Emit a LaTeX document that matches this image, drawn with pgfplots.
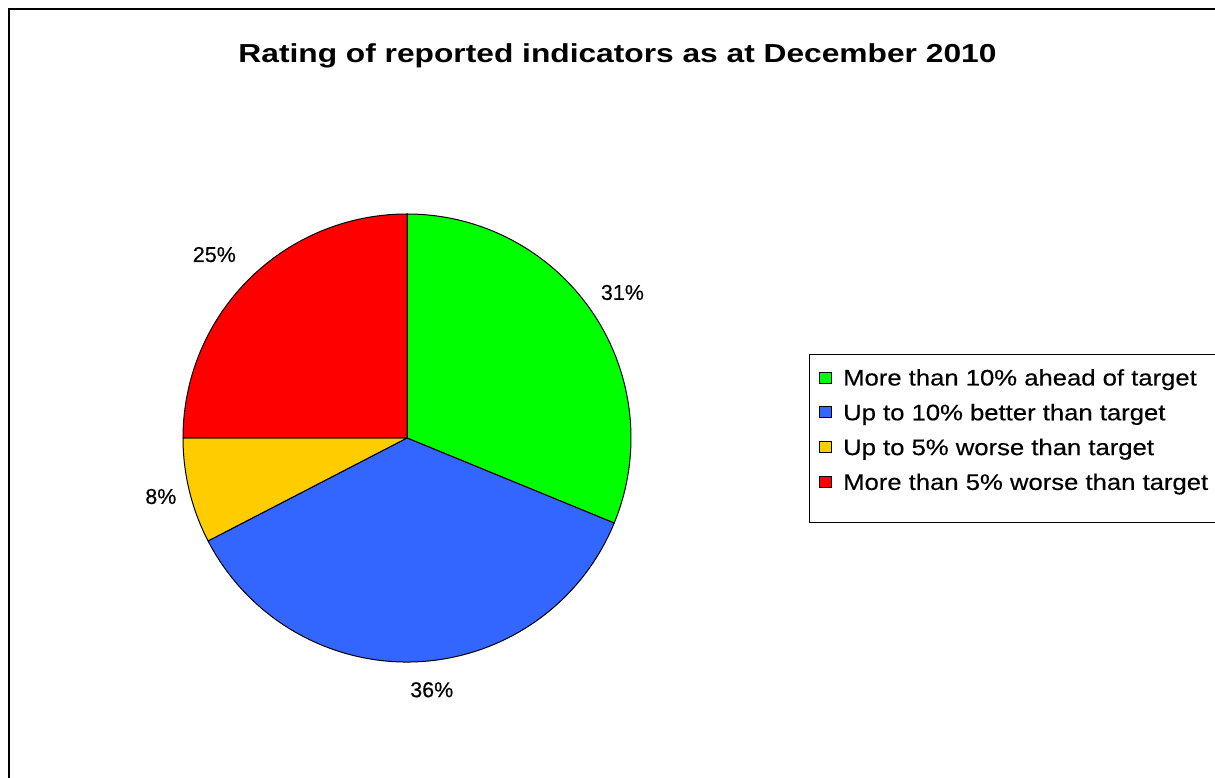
\documentclass[border=0pt]{standalone}
\usepackage{pgfplots}
\pgfplotsset{compat=1.18}
\usepackage{pgfplotstable}
\usepackage{fontspec}
\setmainfont{Liberation Sans}
\newfontfamily\titlefont{Liberation Sans}[FakeStretch=1.22]
\newfontfamily\legfont{Liberation Sans}[FakeStretch=1.14,FakeBold=0.4]
\newfontfamily\labfont{Liberation Sans}[FakeBold=0.4]
\definecolor{sliceA}{HTML}{00FF00}
\definecolor{sliceB}{HTML}{3366FF}
\definecolor{sliceC}{HTML}{FFCC00}
\definecolor{sliceD}{HTML}{FF0000}

% share (%), label distance from centre, label angle offset
\pgfplotstableread{
value ldist loff
31.2 260 0.2
36.2 253 3.1
7.6 253 -0.3
25.0 266 1.4
}\piedata

\begin{document}
\begin{tikzpicture}
\useasboundingbox (0,0) rectangle (1215bp,778bp);
\begin{axis}[at={(0,0)},anchor=south west,
  width=1215bp,height=778bp,scale only axis,hide axis,
  xmin=0,xmax=1215,ymin=0,ymax=778,clip=false]
\pgfplotsextra{%
  % outer chart border (only left and top visible)
  \draw[line width=2.4bp] (axis cs:9,-20) -- (axis cs:9,769) -- (axis cs:1240,769);
  % title
  \node[anchor=base,inner sep=0,font=\titlefont\bfseries\fontsize{26bp}{30bp}\selectfont]
    at (axis cs:617.5,715) {Rating of reported indicators as at December 2010};
  % pie
  \gdef\cum{0}%
  \foreach \i/\col in {0/sliceA,1/sliceB,2/sliceC,3/sliceD}{%
    \pgfplotstablegetelem{\i}{value}\of\piedata \let\v\pgfplotsretval
    \pgfplotstablegetelem{\i}{ldist}\of\piedata \let\ld\pgfplotsretval
    \pgfplotstablegetelem{\i}{loff}\of\piedata \let\lo\pgfplotsretval
    \pgfmathsetmacro\aone{90-3.6*\cum}%
    \pgfmathsetmacro\atwo{90-3.6*(\cum+\v)}%
    \pgfmathsetmacro\amid{(\aone+\atwo)/2+\lo}%
    \pgfmathtruncatemacro\pct{round(\v)}%
    \filldraw[fill=\col,draw=black,line width=1bp,line join=round]
      (axis cs:407,340) -- ++(\aone:224bp) arc[start angle=\aone,end angle=\atwo,radius=224bp] -- cycle;
    \path (axis cs:407,340) ++(\amid:\ld bp)
      node[inner sep=0,font=\labfont\fontsize{21.5bp}{25bp}\selectfont] {\pct\%};
    \pgfmathsetmacro\newcum{\cum+\v}%
    \xdef\cum{\newcum}%
  }%
  % legend
  \draw[line width=1bp] (axis cs:1240,423) -- (axis cs:809,423) -- (axis cs:809,255) -- (axis cs:1240,255);
  \foreach \name/\col [count=\k from 0] in {More than 10\% ahead of target/sliceA,
      Up to 10\% better than target/sliceB,
      Up to 5\% worse than target/sliceC,
      More than 5\% worse than target/sliceD}{%
    \pgfmathsetmacro\yc{400.5-34.8*\k}%
    \pgfmathsetmacro\ylo{\yc-5.5}%
    \pgfmathsetmacro\yhi{\yc+5.5}%
    \pgfmathsetmacro\ybase{\yc-8}%
    \filldraw[fill=\col,draw=black,line width=0.9bp] (axis cs:819,\ylo) rectangle (axis cs:831,\yhi);
    \node[anchor=base west,inner sep=0,font=\legfont\fontsize{22.5bp}{26bp}\selectfont]
      at (axis cs:843,\ybase) {\name};
  }%
}
\end{axis}
\end{tikzpicture}
\end{document}
